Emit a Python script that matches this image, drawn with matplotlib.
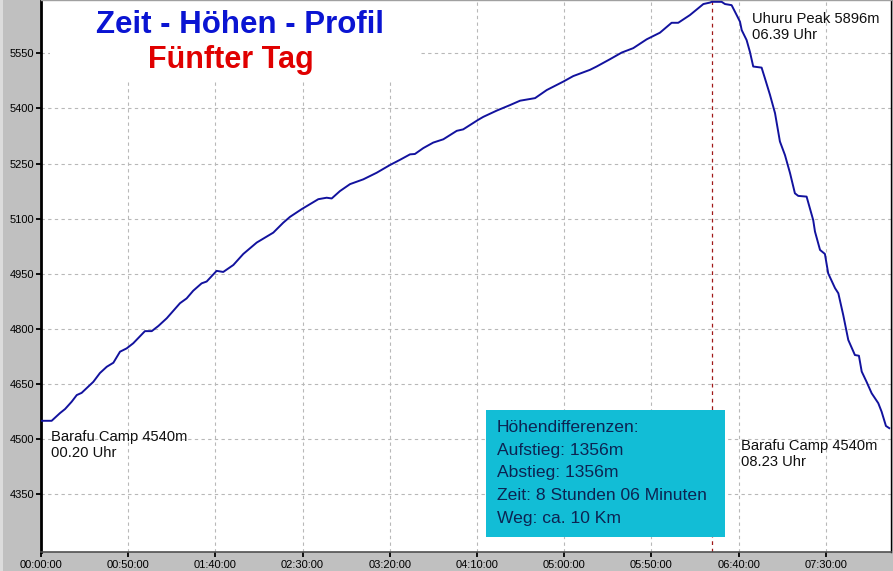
import matplotlib
matplotlib.use('Agg')
import matplotlib.pyplot as plt
from matplotlib.patches import Rectangle

# ---- data ----
minutes = [0, 6.1, 10.9, 13.8, 17.6, 20.5, 23.3, 26.2, 30.0, 33.8, 37.7, 41.5, 45.3, 49.1, 52.9,
           59.6, 63.5, 67.3, 72.1, 79.7, 83.5, 87.3, 92.1, 95.0, 100.7, 104.5, 110.3, 116.0, 123.7,
           133.2, 138.9, 142.8, 149.5, 159.0, 163.8, 166.7, 171.4, 177.2, 184.8, 192.5, 200.1, 205.8,
           211.6, 214.4, 219.2, 224.9, 230.7, 238.4, 242.1, 250.7, 253.6, 261.3, 268.9, 274.7, 283.3,
           290.0, 299.5, 305.2, 314.8, 318.6, 326.3, 333.0, 339.6, 347.3, 354.9, 361.6, 365.4, 372.1,
           379.8, 383.6, 384.6, 390.3, 392.2, 396.0, 398.9, 400.8, 401.8, 404.6, 406.5, 408.4, 413.2,
           415.1, 418.0, 420.9, 423.7, 426.6, 429.5, 432.3, 434.2, 439.0, 440.9, 442.8, 443.8, 446.7,
           449.5, 451.4, 455.3, 457.2, 460.0, 462.9, 466.7, 469.0, 470.6, 473.4, 476.3, 480.1, 482.0,
           484.5, 486.4]
altitude = [4550, 4550, 4571, 4582, 4602, 4620, 4626, 4639, 4656, 4680, 4697, 4708, 4738, 4747, 4761,
            4794, 4794, 4808, 4829, 4870, 4883, 4904, 4924, 4929, 4958, 4955, 4974, 5004, 5035,
            5062, 5089, 5105, 5126, 5153, 5157, 5155, 5175, 5194, 5207, 5225, 5246, 5260,
            5275, 5276, 5292, 5307, 5316, 5339, 5343, 5369, 5377, 5394, 5409, 5421, 5428,
            5450, 5473, 5488, 5505, 5514, 5534, 5552, 5564, 5588, 5606, 5633, 5633, 5654,
            5684, 5688, 5690, 5690, 5684, 5681, 5654, 5636, 5613, 5586, 5554, 5514, 5511,
            5482, 5437, 5387, 5310, 5273, 5224, 5169, 5162, 5160, 5128, 5096, 5065, 5015,
            5004, 4951, 4911, 4897, 4838, 4770, 4729, 4727, 4684, 4656, 4625, 4598, 4575,
            4536, 4530]
peak_minute = 384.7

y_ticks = [4350, 4500, 4650, 4800, 4950, 5100, 5250, 5400, 5550]
x_ticks = [0, 50, 100, 150, 200, 250, 300, 350, 400, 450]
x_labels = ["00:00:00", "00:50:00", "01:40:00", "02:30:00", "03:20:00",
            "04:10:00", "05:00:00", "05:50:00", "06:40:00", "07:30:00"]

title1 = "Zeit - Höhen - Profil"
title2 = "Fünfter Tag"
start_label = "Barafu Camp 4540m\n00.20 Uhr"
peak_label = "Uhuru Peak 5896m\n06.39 Uhr"
end_label = "Barafu Camp 4540m\n08.23 Uhr"
info_lines = ["Höhendifferenzen:", "Aufstieg: 1356m", "Abstieg: 1356m",
              "Zeit: 8 Stunden 06 Minuten", "Weg: ca. 10 Km"]

# ---- figure ----
W, H = 893, 571
plt.rcParams['font.family'] = ['Liberation Sans', 'DejaVu Sans']
fig = plt.figure(figsize=(W / 100, H / 100), dpi=100, facecolor='#c0c0c0')

def fx(px):
    return px / W

def fy(py):
    return 1 - py / H

# light strip at far left
fig.patches.append(Rectangle((0, 0), fx(3), 1, transform=fig.transFigure,
                             facecolor='#dcdcdc', edgecolor='none', zorder=0))

L, R, T, B = 41, 891, 0, 552
ax = fig.add_axes([fx(L), fy(B), fx(R - L), (B - T) / H])
ax.set_facecolor('white')
ax.set_xlim(0, 487.4)
ax.set_ylim(4193, 5695)

ax.set_axisbelow(True)
ax.grid(True, color='#b8b8b8', linestyle=(0, (3, 3)), linewidth=0.8)

ax.plot(minutes, altitude, color='#12129e', linewidth=1.4, zorder=3, solid_joinstyle='round')
ax.axvline(peak_minute, color='#a01818', linestyle=(0, (3, 3)), linewidth=0.9, zorder=2.5)

ax.set_yticks(y_ticks)
ax.set_yticklabels([str(v) for v in y_ticks])
ax.set_xticks(x_ticks)
ax.set_xticklabels(x_labels)
ax.tick_params(axis='both', direction='out', length=3.5, width=1.3, colors='black',
               labelsize=8, pad=1.5)
ax.tick_params(axis='x', pad=2.0)

for side, col, lw in [('left', 'black', 2.0), ('bottom', '#505050', 1.2),
                      ('right', 'black', 1.0), ('top', '#a0a0a0', 1.0)]:
    ax.spines[side].set_color(col)
    ax.spines[side].set_linewidth(lw)

# white background behind the title (hides grid)
ax.add_patch(Rectangle(((50 - L) / (R - L), 1 - 80 / (B - T)), (420 - 50) / (R - L), 80 / (B - T),
                       transform=ax.transAxes, facecolor='white', edgecolor='none', zorder=1))

fig.text(fx(240), fy(25), title1, ha='center', va='center', fontsize=22.5,
         fontweight='bold', color='#0a14d2')
fig.text(fx(231), fy(60), title2, ha='center', va='center', fontsize=22,
         fontweight='bold', color='#e00000')

fig.text(fx(51), fy(445), start_label, ha='left', va='center', fontsize=10.6,
         color='#101010', linespacing=1.2)
fig.text(fx(752), fy(27), peak_label, ha='left', va='center', fontsize=10.6,
         color='#101010', linespacing=1.2)
fig.text(fx(741), fy(454), end_label, ha='left', va='center', fontsize=10.6,
         color='#101010', linespacing=1.2)

# info box
fig.patches.append(Rectangle((fx(486), fy(537)), fx(725 - 486), (537 - 410) / H,
                             transform=fig.transFigure, facecolor='#12bdd6',
                             edgecolor='none', zorder=5))
for i, line in enumerate(info_lines):
    fig.text(fx(497), fy(428 + i * 22.5), line, ha='left', va='center', fontsize=12.6,
             color='#0c2452', zorder=6)

fig.savefig('out.png', dpi=100, facecolor=fig.get_facecolor())
